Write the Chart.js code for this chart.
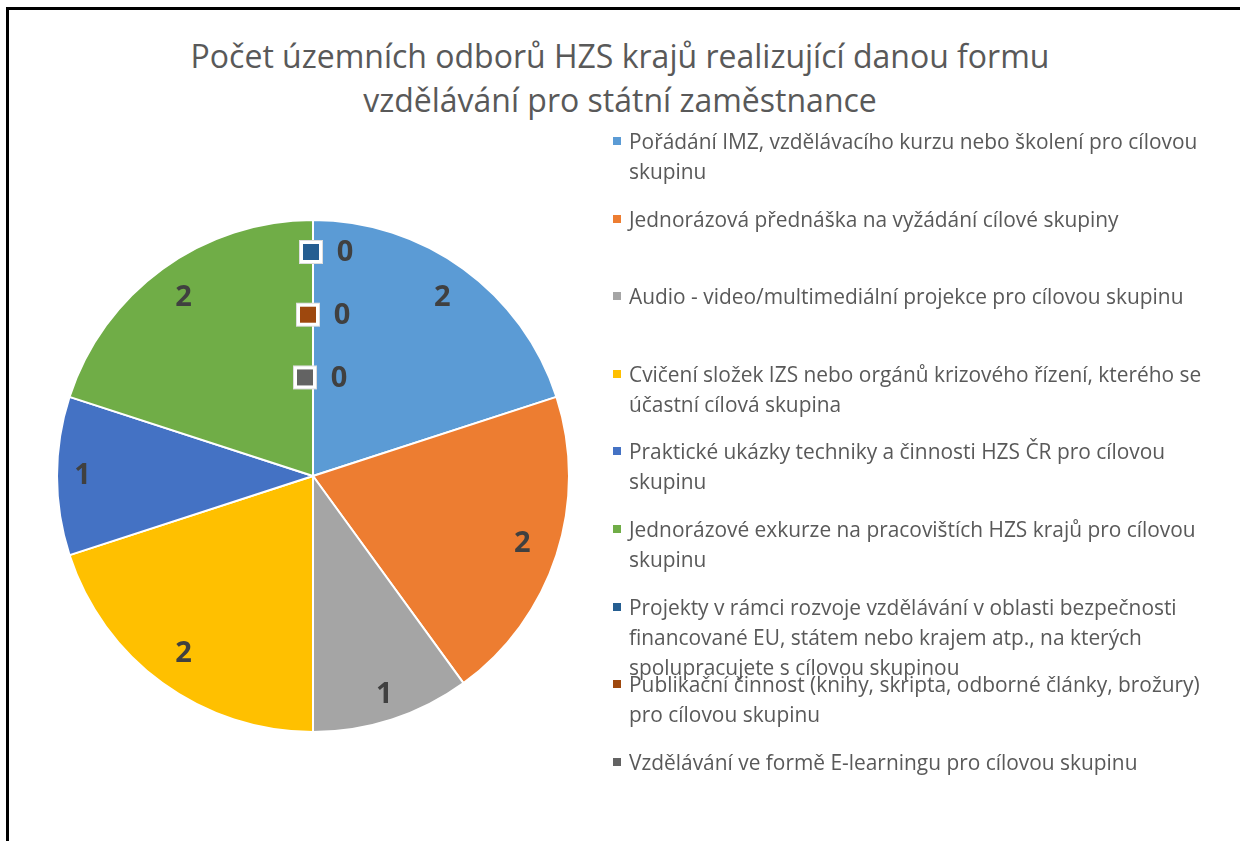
<!DOCTYPE html>
<html>
<head>
<meta charset="utf-8">
<script src="https://cdn.jsdelivr.net/npm/chart.js@4.4.0/dist/chart.umd.min.js"></script>
<style>
  body { margin: 0; background: #fff; width: 1240px; height: 841px; overflow: hidden; position: relative; font-family: "Open Sans", Lato, sans-serif; }
  #frame { position: absolute; left: 6px; top: 7px; right: -10px; bottom: -10px; border-left: 3px solid #000; border-top: 3px solid #000; }
  #title { position: absolute; left: 0; top: 34px; width: 1240px; text-align: center; color: #595959; font-size: 32px; line-height: 44px; }
  #myChart { position: absolute; left: 0; top: 0; }
  #legend { position: absolute; left: 612px; top: 0; width: 620px; }
  .item { position: absolute; left: 0; width: 592px; padding-left: 17px; color: #595959; font-size: 20.9px; line-height: 30px; }
  .item i { position: absolute; left: 1px; top: 11px; width: 8px; height: 8px; }
</style>
</head>
<body>
<div id="frame"></div>
<div id="title">Počet územních odborů HZS krajů realizující danou formu<br>vzdělávání pro státní zaměstnance</div>
<canvas id="myChart" width="1240" height="841"></canvas>
<div id="legend"></div>
<script>
// forms of education
let labels = [
  'Pořádání IMZ, vzdělávacího kurzu nebo školení pro cílovou skupinu',
  'Jednorázová přednáška na vyžádání cílové skupiny',
  'Audio - video/multimediální projekce pro cílovou skupinu',
  'Cvičení složek IZS nebo orgánů krizového řízení, kterého se účastní cílová skupina',
  'Praktické ukázky techniky a činnosti HZS ČR pro cílovou skupinu',
  'Jednorázové exkurze na pracovištích HZS krajů pro cílovou skupinu',
  'Projekty v rámci rozvoje vzdělávání v oblasti bezpečnosti financované EU, státem nebo krajem atp., na kterých spolupracujete s cílovou skupinou',
  'Publikační činnost (knihy, skripta, odborné články, brožury) pro cílovou skupinu',
  'Vzdělávání ve formě E-learningu pro cílovou skupinu'
];

// number of regional departments
let values = [2, 2, 1, 2, 1, 2, 0, 0, 0];

let colors = [
  '#5B9BD5', '#ED7D31', '#A5A5A5', '#FFC000', '#4472C4',
  '#70AD47', '#255E91', '#9E480E', '#636363'
];

// legend on the right, one slot per item like in Excel
let legend = document.getElementById('legend');
labels.forEach((text, i) => {
  let div = document.createElement('div');
  div.className = 'item';
  div.style.top = (126 + 77.6 * i) + 'px';
  div.innerHTML = '<i style="background:' + colors[i] + '"></i>' + text;
  legend.appendChild(div);
});

// value labels, zero slices stacked at the top like Excel does
const sliceLabels = {
  id: 'sliceLabels',
  afterDatasetsDraw(chart) {
    const ctx = chart.ctx;
    const meta = chart.getDatasetMeta(0);
    let zeros = 0;
    ctx.save();
    ctx.font = 'bold 29px "Open Sans"';
    ctx.textAlign = 'center';
    ctx.textBaseline = 'middle';
    meta.data.forEach((arc, i) => {
      const p = arc.getProps(['x', 'y', 'startAngle', 'endAngle', 'outerRadius']);
      const v = values[i];
      if (v > 0) {
        const a = (p.startAngle + p.endAngle) / 2;
        // smaller slices sit a bit further out, as in the original
        const r = p.outerRadius * (v > 1 ? 0.86 : 0.9);
        ctx.fillStyle = '#404040';
        ctx.fillText(String(v), p.x + Math.cos(a) * r, p.y + Math.sin(a) * r);
      } else {
        const y = p.y - p.outerRadius * (0.875 - 0.245 * zeros);
        const sx = p.x - 2 - 3 * zeros;
        ctx.fillStyle = '#ddd';
        ctx.fillRect(sx - 12, y - 12, 24, 24);
        ctx.fillStyle = '#fff';
        ctx.fillRect(sx - 11, y - 11, 22, 22);
        ctx.fillStyle = colors[i];
        ctx.fillRect(sx - 8, y - 8, 16, 16);
        ctx.fillStyle = '#404040';
        ctx.fillText(String(v), sx + 34, y + 1);
        zeros++;
      }
    });
    ctx.restore();
  }
};

const data = {
  labels: labels,
  datasets: [{
    data: values,
    backgroundColor: colors,
    borderColor: '#ffffff',
    borderWidth: 2
  }]
};

const config = {
  type: 'pie',
  data: data,
  options: {
    responsive: false,
    animation: false,
    layout: {
      padding: { left: 56, right: 670, top: 219, bottom: 108 }
    },
    plugins: {
      legend: { display: false },
      tooltip: { enabled: false }
    }
  },
  plugins: [sliceLabels]
};

var ctx = document.getElementById('myChart');
var mychart = new Chart(ctx, config);
</script>
</body>
</html>
